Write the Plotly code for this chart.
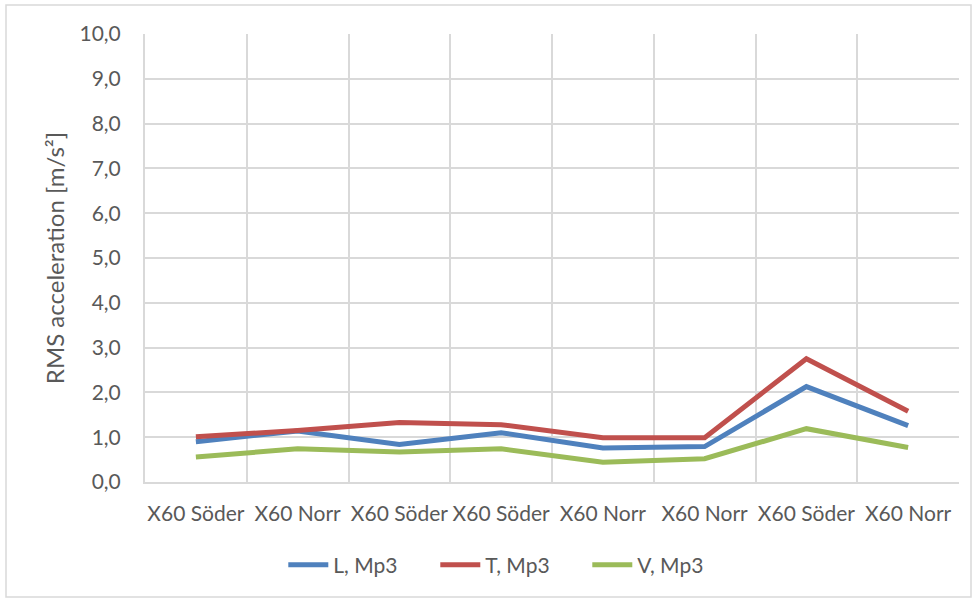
import plotly.graph_objects as go

# Measurement positions along the line and RMS acceleration per direction
categories = ["X60 Söder", "X60 Norr", "X60 Söder", "X60 Söder",
              "X60 Norr", "X60 Norr", "X60 Söder", "X60 Norr"]
l_mp3 = [0.90, 1.14, 0.84, 1.10, 0.76, 0.79, 2.13, 1.26]
t_mp3 = [1.01, 1.15, 1.33, 1.28, 0.99, 0.99, 2.75, 1.58]
v_mp3 = [0.56, 0.74, 0.67, 0.74, 0.44, 0.52, 1.19, 0.77]
y_ticks = [0, 1, 2, 3, 4, 5, 6, 7, 8, 9, 10]

series = [
    ("L, Mp3", l_mp3, "#4F81BD"),
    ("T, Mp3", t_mp3, "#C0504D"),
    ("V, Mp3", v_mp3, "#9BBB59"),
]

x = list(range(len(categories)))

fig = go.Figure()
for name, vals, color in series:
    fig.add_trace(go.Scatter(
        x=x, y=vals, name=name, mode="lines",
        line=dict(color=color, width=5),
    ))

W, H = 977, 602
ml, mr, mt, mb = 145, 18, 34, 120
pw, ph = W - ml - mr, H - mt - mb

font_family = "Lato, 'Open Sans', sans-serif"
txt = "#595959"
grid = "#D9D9D9"

fig.update_layout(
    width=W, height=H,
    margin=dict(l=ml, r=mr, t=mt, b=mb),
    paper_bgcolor="white", plot_bgcolor="white",
    separators=",.",
    font=dict(family=font_family, size=21, color=txt),
    showlegend=True,
    legend=dict(orientation="h", x=0.45, xanchor="center", y=-0.14,
                yanchor="top", font=dict(size=21, color=txt),
                itemwidth=40, entrywidth=97, entrywidthmode="pixels",
                traceorder="normal"),
    xaxis=dict(
        range=[-0.5, len(categories) - 0.5],
        tickmode="array", tickvals=x, ticktext=categories,
        showgrid=False, zeroline=False,
        showline=True, linecolor=grid, linewidth=2,
        ticks="", ticklabelstandoff=12,
        tickfont=dict(size=21, color=txt),
        minor=dict(tickvals=[i - 0.5 for i in range(len(categories) + 1)],
                   showgrid=True, gridcolor=grid, gridwidth=2),
    ),
    yaxis=dict(
        range=[0, 10], tickmode="array", tickvals=y_ticks,
        tickformat=".1f", showgrid=True, gridcolor=grid, gridwidth=2,
        zeroline=False, showline=True, linecolor=grid, linewidth=2,
        ticks="", ticklabelstandoff=18,
        tickfont=dict(size=21, color=txt),
        title=dict(text="RMS acceleration [m/s²]", standoff=8,
                   font=dict(size=24, color=txt)),
    ),
)

# Thin outer frame around the whole chart area
fig.add_shape(type="rect", xref="paper", yref="paper",
              x0=(6 - ml) / pw, x1=(971 - ml) / pw,
              y0=-(mb - 5) / ph, y1=1 + (mt - 5) / ph,
              line=dict(color="#D9D9D9", width=1.5), fillcolor="rgba(0,0,0,0)",
              layer="below")

fig.write_html("out.html")
